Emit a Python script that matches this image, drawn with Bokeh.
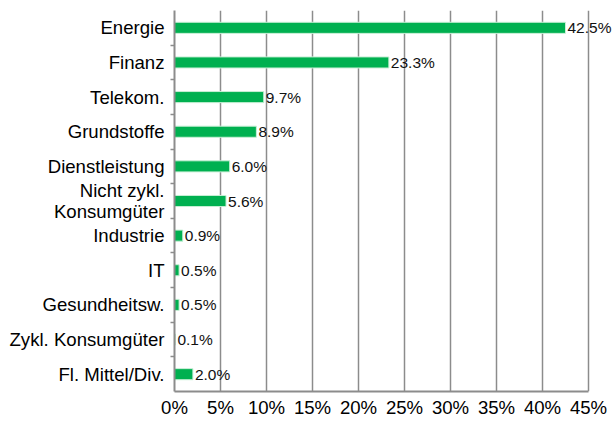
from bokeh.plotting import figure
from bokeh.models import ColumnDataSource, FixedTicker, Range1d, LabelSet
from bokeh.core.properties import value
from bokeh.embed import file_html
from bokeh.resources import INLINE

categories = ["Energie", "Finanz", "Telekom.", "Grundstoffe", "Dienstleistung",
              "Nicht zykl.\nKonsumgüter", "Industrie", "IT", "Gesundheitsw.",
              "Zykl. Konsumgüter", "Fl. Mittel/Div."]
values = [42.5, 23.3, 9.7, 8.9, 6.0, 5.6, 0.9, 0.5, 0.5, 0.1, 2.0]
x_ticks = [0, 5, 10, 15, 20, 25, 30, 35, 40, 45]

FONT = "Liberation Sans"
GRID = "#8c8c8c"

W, H = 613, 420
LEFT, RIGHT, TOP, BOTTOM = 174, 0, 10, 27
frame_w = W - LEFT - RIGHT
x_end = x_ticks[-1] * frame_w / 414.0  # 45% axis end sits 414px from the left edge

pos = list(range(len(categories)))
src = ColumnDataSource(dict(y=pos, v=values,
                            lab=[f"{v:.1f}%" for v in values]))

p = figure(width=W, height=H, output_backend="svg", toolbar_location=None,
           x_range=Range1d(0, x_end), y_range=Range1d(len(categories) - 0.5, -0.5),
           min_border_left=LEFT, min_border_right=RIGHT, min_border_top=TOP,
           min_border_bottom=BOTTOM)
p.outline_line_color = None
p.background_fill_color = "white"
p.border_fill_color = "white"

p.hbar(y="y", right="v", left=0, height=0.32, source=src,
       fill_color="#00B050", line_color="#c9efd6", line_width=1)
labels = LabelSet(x="v", y="y", text="lab", source=src, x_offset=2,
                  text_font=value(FONT), text_font_size="15.5px",
                  text_baseline="middle", text_align="left", text_color="#111111")
p.add_layout(labels)

# x axis
p.xaxis.ticker = FixedTicker(ticks=x_ticks)
p.xaxis.bounds = (x_ticks[0], x_ticks[-1])
p.xaxis.major_label_overrides = {t: f"{t}%" for t in x_ticks}
p.xaxis.major_tick_out = 0
p.xaxis.major_tick_in = 0
p.xaxis.minor_tick_out = 0
p.xaxis.minor_tick_in = 0
p.xaxis.axis_line_color = GRID
p.xaxis.axis_line_width = 2
p.xaxis.major_label_text_font = FONT
p.xaxis.major_label_text_font_size = "18.6px"
p.xaxis.major_label_text_color = "#000000"
p.xaxis.major_label_standoff = 5

# y axis
p.yaxis.ticker = FixedTicker(ticks=pos,
                             minor_ticks=[i + 0.5 for i in pos[:-1]])
p.yaxis.major_label_overrides = {i: c for i, c in zip(pos, categories)}
p.yaxis.major_tick_out = 0
p.yaxis.major_tick_in = 0
p.yaxis.minor_tick_out = 4
p.yaxis.minor_tick_in = 0
p.yaxis.minor_tick_line_color = GRID
p.yaxis.minor_tick_line_width = 1.5
p.yaxis.axis_line_color = GRID
p.yaxis.axis_line_width = 2
p.yaxis.major_label_text_font = FONT
p.yaxis.major_label_text_font_size = "18.6px"
p.yaxis.major_label_text_color = "#000000"
p.yaxis.major_label_text_line_height = 1.0
p.yaxis.major_label_standoff = 6

p.xgrid.ticker = FixedTicker(ticks=x_ticks)
p.xgrid.bounds = (x_ticks[0], x_ticks[-1])
p.xgrid.grid_line_color = GRID
p.xgrid.grid_line_width = 1.5
p.ygrid.grid_line_color = None

open("out.html", "w").write(file_html(p, INLINE))
